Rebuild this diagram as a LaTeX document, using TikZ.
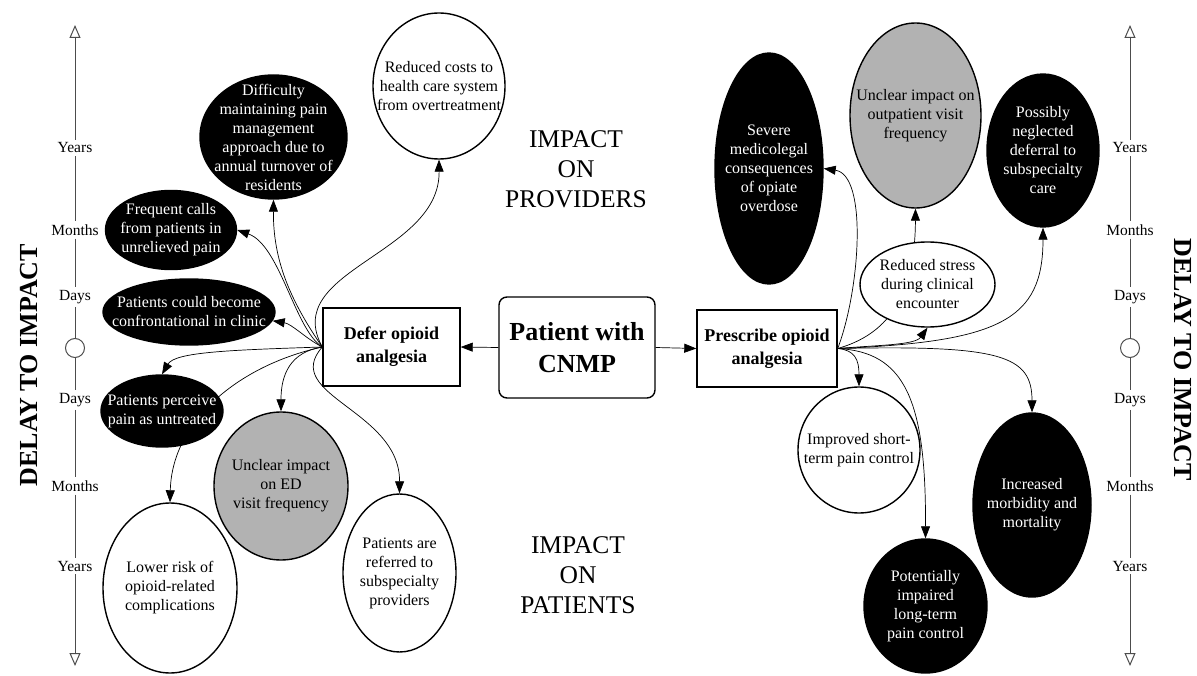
\documentclass[tikz,border=0pt]{standalone}
\usepackage{fontspec}
\setmainfont{Liberation Serif}
\usetikzlibrary{shapes.geometric,arrows.meta,backgrounds}
\begin{document}
\begin{tikzpicture}[x=1pt,y=-1pt,
  ell/.style={ellipse,draw=black,line width=1.4pt,inner sep=0pt},
  blk/.style={ell,fill=black},
  wht/.style={ell,fill=white},
  gry/.style={ell,fill=gray!60},
  tl/.style={align=center,font=\fontsize{16}{19}\selectfont,inner sep=0pt},
  wl/.style={tl,text=white},
  bx/.style={draw=black,line width=1.4pt,fill=white,inner sep=0pt,align=center,font=\fontsize{18}{23}\selectfont\bfseries},
  edge/.style={line width=0.7pt,-{Triangle[width=9pt,length=12pt]}},
  ax/.style={font=\fontsize{15.5}{18}\selectfont,inner sep=3pt},
  axl/.style={line width=1pt,draw=gray!60!black},
  axstart/.style={axl,{Triangle[open,width=11pt,length=13pt]}-},
  axend/.style={axl,-{Triangle[open,width=11pt,length=13pt]}},
  big/.style={align=center,font=\fontsize{25.5}{30}\selectfont},
  delay/.style={font=\fontsize{26}{30}\selectfont\bfseries}
]
\useasboundingbox (0,0) rectangle (1197,676);

% central boxes
\node[bx,rounded corners=8pt,minimum width=156,minimum height=101,font=\fontsize{26}{32}\selectfont\bfseries] (cnmp) at (577,347.5) {Patient with\\CNMP};
\node[bx,minimum width=137,minimum height=78] (defer) at (391.5,347) {Defer opioid\\analgesia};
\node[bx,minimum width=140,minimum height=77] (presc) at (767,348.5) {Prescribe opioid\\analgesia};
\draw[edge] (cnmp.west) -- (defer.east);
\draw[edge] (cnmp.east) -- (presc.west);

% left ellipses
\node[wht,minimum width=132,minimum height=146,label={[tl]center:{Reduced costs to\\health care system\\from overtreatment}}] (costs) at (439,86) {};
\node[blk,minimum width=147,minimum height=124,label={[wl]center:{Difficulty\\maintaining pain\\management\\approach due to\\annual turnover of\\residents}}] (diff) at (273.5,137) {};
\node[blk,minimum width=131,minimum height=79,label={[wl]center:{Frequent calls\\from patients in\\unrelieved pain}}] (freq) at (171,230) {};
\node[blk,minimum width=172,minimum height=66,label={[wl]center:{Patients could become\\confrontational in clinic}}] (conf) at (189,312) {};
\node[blk,minimum width=122,minimum height=72,label={[wl]center:{Patients perceive\\pain as untreated}}] (perc) at (162,411) {};
\node[gry,minimum width=134,minimum height=148,label={[tl]center:{Unclear impact\\on ED\\visit frequency}}] (ued) at (281,486) {};
\node[wht,minimum width=134,minimum height=170,label={[tl]center:{Lower risk of\\opioid-related\\complications}}] (low) at (170,588) {};
\node[wht,minimum width=113,minimum height=158,label={[tl]center:{Patients are\\referred to\\subspecialty\\providers}}] (ref) at (399.5,573) {};

% right ellipses
\node[blk,minimum width=108,minimum height=231,label={[wl]center:{Severe\\medicolegal\\consequences\\of opiate\\overdose}}] (sev) at (769,168.5) {};
\node[gry,minimum width=131,minimum height=185,label={[tl]center:{Unclear impact on\\outpatient visit\\frequency}}] (uop) at (915.5,115.5) {};
\node[blk,minimum width=112,minimum height=153,label={[wl]center:{Possibly\\neglected\\deferral to\\subspecialty\\care}}] (negl) at (1043,150.5) {};
\node[wht,minimum width=135,minimum height=85,label={[tl]center:{Reduced stress\\during clinical\\encounter}}] (stress) at (927.5,284.5) {};
\node[wht,minimum width=122,minimum height=126,label={[tl]center:{Improved short-\\term pain control}}] (imp) at (859,450) {};
\node[blk,minimum width=123,minimum height=134,label={[wl]center:{Potentially\\impaired\\long-term\\pain control}}] (pot) at (925.5,606) {};
\node[blk,minimum width=118,minimum height=184,label={[wl]center:{Increased\\morbidity and\\mortality}}] (inc) at (1032,505) {};

% titles
\node[big] (prov) at (576,169) {IMPACT\\ON\\PROVIDERS};
\node[big] (pat) at (578,575) {IMPACT\\ON\\PATIENTS};

% edges
\begin{pgfonlayer}{background}
\draw[edge] (defer.west) .. controls (280,270) and (440,255) .. (costs.south);
\draw[edge] (defer.west) .. controls (290,300) and (273,260) .. (diff.south);
\draw[edge] (defer.west) .. controls (295,330) and (280,245) .. (freq.east);
\draw[edge] (defer.west) .. controls (305,338) and (292,324) .. (conf.-6);
\draw[edge] (defer.west) .. controls (230,350) and (175,352) .. (perc.north);
\draw[edge] (defer.west) .. controls (240,365) and (172,420) .. (low.north);
\draw[edge] (defer.west) .. controls (290,352) and (281,375) .. (ued.north);
\draw[edge] (defer.west) .. controls (280,395) and (400,410) .. (ref.north);

\draw[edge] (presc.east) .. controls (860,290) and (868,175) .. (sev.east);
\draw[edge] (presc.east) .. controls (885,335) and (915,300) .. (uop.south);
\draw[edge] (presc.east) .. controls (880,345) and (915,345) .. (stress.south);
\draw[edge] (presc.east) .. controls (1000,342) and (1043,320) .. (negl.south);
\draw[edge] (presc.east) .. controls (855,350) and (859,360) .. (imp.north);
\draw[edge] (presc.east) .. controls (905,352) and (926,400) .. (pot.north);
\draw[edge] (presc.east) .. controls (1000,345) and (1032,355) .. (inc.north);
\end{pgfonlayer}

% left time axis
\coordinate (ltop) at (75,25);
\coordinate (lbot) at (75,666);
\node[ax] (ly1) at (75,148) {Years};
\node[ax] (lm1) at (75,230) {Months};
\node[ax] (ld1) at (75,297) {Days};
\node[circle,draw=gray!60!black,line width=1pt,minimum size=19pt,inner sep=0pt] (lc) at (75,348) {};
\node[ax] (ld2) at (75,400) {Days};
\node[ax] (lm2) at (75,486) {Months};
\node[ax] (ly2) at (75,566) {Years};
\draw[axstart] (ltop) -- (ly1);
\draw[axl] (ly1) -- (lm1);
\draw[axl] (lm1) -- (ld1);
\draw[axl] (ld1) -- (lc);
\draw[axl] (lc) -- (ld2);
\draw[axl] (ld2) -- (lm2);
\draw[axl] (lm2) -- (ly2);
\draw[axend] (ly2) -- (lbot);

% right time axis
\coordinate (rtop) at (1130,25);
\coordinate (rbot) at (1130,666);
\node[ax] (ry1) at (1130,148) {Years};
\node[ax] (rm1) at (1130,230) {Months};
\node[ax] (rd1) at (1130,297) {Days};
\node[circle,draw=gray!60!black,line width=1pt,minimum size=19pt,inner sep=0pt] (rc) at (1130,348) {};
\node[ax] (rd2) at (1130,400) {Days};
\node[ax] (rm2) at (1130,486) {Months};
\node[ax] (ry2) at (1130,566) {Years};
\draw[axstart] (rtop) -- (ry1);
\draw[axl] (ry1) -- (rm1);
\draw[axl] (rm1) -- (rd1);
\draw[axl] (rd1) -- (rc);
\draw[axl] (rc) -- (rd2);
\draw[axl] (rd2) -- (rm2);
\draw[axl] (rm2) -- (ry2);
\draw[axend] (ry2) -- (rbot);

\node[delay,rotate=90] (dl) at (29,365) {DELAY TO IMPACT};
\node[delay,rotate=-90] (dr) at (1183,360) {DELAY TO IMPACT};
\end{tikzpicture}
\end{document}
